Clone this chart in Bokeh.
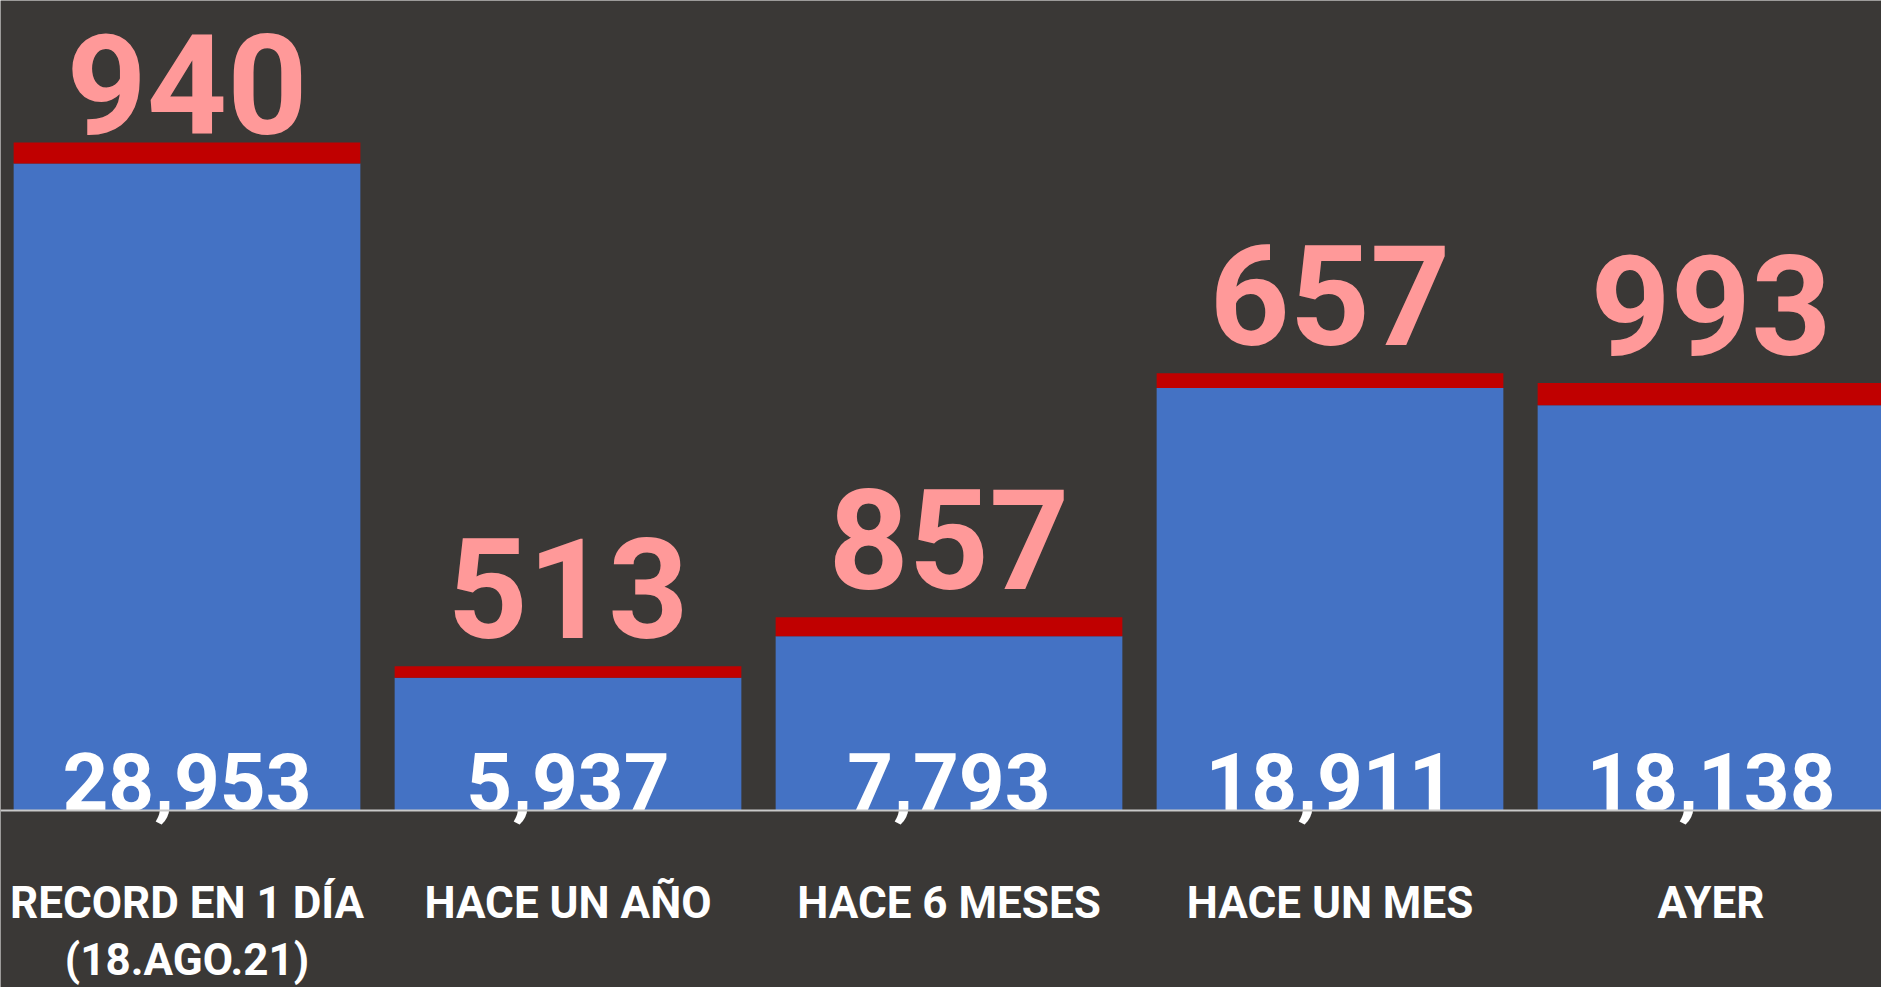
from bokeh.plotting import figure
from bokeh.models import ColumnDataSource, Span, Range1d
from bokeh.core.properties import value
from bokeh.embed import file_html
from bokeh.resources import INLINE

# ---- data ----
categories = ["RECORD EN 1 DÍA\n(18.AGO.21)", "HACE UN AÑO", "HACE 6 MESES", "HACE UN MES", "AYER"]
base_values = [28953, 5937, 7793, 18911, 18138]
top_values = [940, 513, 857, 657, 993]

FONT = "Roboto"
BG = "#3a3836"
BLUE = "#4472c4"
RED = "#c00000"
PINK = "#ff9999"

W, H = 1881, 987
axis_px = 810
units_per_px = 44.75
period_px = 381
first_center_px = 186.5
DESC = 0.26   # baseline shift of the text glyph, in em

TOP_SIZE, BASE_SIZE, CAT_SIZE = 140, 80, 44

x = list(range(len(categories)))
totals = [b + t for b, t in zip(base_values, top_values)]

x0 = -first_center_px / period_px
x1 = x0 + W / period_px
y1 = axis_px * units_per_px
y0 = -(H - axis_px) * units_per_px

p = figure(width=W, height=H, output_backend="svg", toolbar_location=None,
           x_range=Range1d(x0, x1), y_range=Range1d(y0, y1))
p.axis.visible = False
p.grid.visible = False
p.outline_line_color = None
p.background_fill_color = BG
p.border_fill_color = BG
p.min_border = 0

# top labels float above the bar, kept inside the canvas
top_label_y = [min(t + 24 * units_per_px, y1 - 138 * units_per_px) for t in totals]

lines1 = [c.split("\n")[0] for c in categories]
lines2 = [c.split("\n")[1] if "\n" in c else " " for c in categories]

src = ColumnDataSource(dict(
    x=x, line1=lines1, line2=lines2, base=base_values, top=top_values, total=totals,
    base_txt=[f"{v:,}" for v in base_values],
    top_txt=[str(v) for v in top_values],
    top_label_y=top_label_y,
    zero=[0] * len(x),
))

p.vbar(x="x", bottom="zero", top="base", width=0.91, source=src,
       fill_color=BLUE, line_color=None)
p.vbar(x="x", bottom="base", top="total", width=0.91, source=src,
       fill_color=RED, line_color=None)

# category labels (two lines)
p.text(x="x", y="zero", text="line1", source=src, y_offset=104 - DESC * CAT_SIZE,
       text_align="center", text_baseline="alphabetic",
       text_font=value(FONT), text_font_style="bold",
       text_font_size=f"{CAT_SIZE}px", text_color="white")
p.text(x="x", y="zero", text="line2", source=src, y_offset=161 - DESC * CAT_SIZE,
       text_align="center", text_baseline="alphabetic",
       text_font=value(FONT), text_font_style="bold",
       text_font_size=f"{CAT_SIZE}px", text_color="white")

# values above the bars
p.text(x="x", y="top_label_y", text="top_txt", source=src, y_offset=-DESC * TOP_SIZE - 18,
       text_align="center", text_baseline="alphabetic",
       text_font=value(FONT), text_font_style="bold",
       text_font_size=f"{TOP_SIZE}px", text_color=PINK)

# values inside the blue bars
p.text(x="x", y="zero", text="base_txt", source=src, y_offset=-8 - DESC * BASE_SIZE,
       text_align="center", text_baseline="alphabetic",
       text_font=value(FONT), text_font_style="bold",
       text_font_size=f"{BASE_SIZE}px", text_color="white")

p.add_layout(Span(location=0, dimension="width", line_color="#c8c8c8", line_width=2))

open("out.html", "w").write(file_html(p, INLINE))
